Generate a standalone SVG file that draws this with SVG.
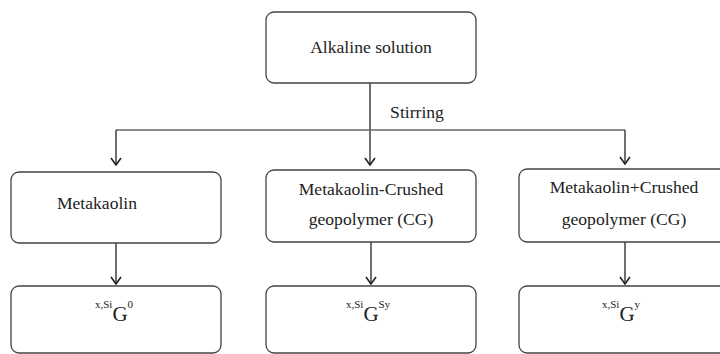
<svg xmlns="http://www.w3.org/2000/svg" width="720" height="354" viewBox="0 0 720 354">
<defs>
<style>
.box{fill:#fff;stroke:#444;stroke-width:1.3}
.t{font-family:'Liberation Serif','DejaVu Serif',serif;font-size:17.6px;fill:#222;text-anchor:middle}
.g{font-family:'Liberation Serif','DejaVu Serif',serif;font-size:21px;fill:#222}
.s{font-family:'Liberation Serif','DejaVu Serif',serif;font-size:11px;fill:#222}
.c{fill:none;stroke:#333;stroke-width:1.4}
.h{fill:none;stroke:#666;stroke-width:1.3}
</style>
<marker id="ah" viewBox="0 0 12 12" refX="11" refY="6" markerWidth="12" markerHeight="12" markerUnits="userSpaceOnUse" orient="auto">
<path d="M4,1 L11,6 L4,11" fill="none" stroke="#222" stroke-width="1.6"/>
</marker>
</defs>
<rect width="720" height="354" fill="#fff"/>
<g id="connectors">
<line class="c" x1="370" y1="83" x2="370" y2="165" marker-end="url(#ah)"/>
<polyline class="h" points="116,130 625,130"/>
<line class="c" x1="116" y1="130" x2="116" y2="165" marker-end="url(#ah)"/>
<line class="c" x1="625" y1="130" x2="625" y2="164" marker-end="url(#ah)"/>
<line class="c" x1="116" y1="243" x2="116" y2="284" marker-end="url(#ah)"/>
<line class="c" x1="371" y1="242" x2="371" y2="284" marker-end="url(#ah)"/>
<line class="c" x1="625" y1="242" x2="625" y2="284" marker-end="url(#ah)"/>
<text class="t" x="417" y="118">Stirring</text>
</g>
<g id="alkaline">
<rect class="box" x="266" y="12" width="210" height="71" rx="8"/>
<text class="t" x="371" y="53">Alkaline solution</text>
</g>
<g id="metakaolin">
<rect class="box" x="11" y="172" width="210" height="71" rx="8"/>
<text class="t" x="97" y="209">Metakaolin</text>
</g>
<g id="mk-cg">
<rect class="box" x="266" y="170" width="210" height="72" rx="8"/>
<text class="t" x="371" y="195">Metakaolin-Crushed</text>
<text class="t" x="371" y="225">geopolymer (CG)</text>
</g>
<g id="mkplus-cg">
<rect class="box" x="519" y="169" width="210" height="73" rx="8"/>
<text class="t" x="624" y="193">Metakaolin+Crushed</text>
<text class="t" x="624" y="225">geopolymer (CG)</text>
</g>
<g id="g0">
<rect class="box" x="11" y="286" width="210" height="67" rx="8"/>
<text x="95" y="321"><tspan class="s" dy="-13">x,Si</tspan><tspan class="g" dy="13">G</tspan><tspan class="s" dy="-13">0</tspan></text>
</g>
<g id="gsy">
<rect class="box" x="266" y="286" width="210" height="67" rx="8"/>
<text x="346" y="321"><tspan class="s" dy="-13">x,Si</tspan><tspan class="g" dy="13">G</tspan><tspan class="s" dy="-13">Sy</tspan></text>
</g>
<g id="gy">
<rect class="box" x="519" y="286" width="210" height="67" rx="8"/>
<text x="602" y="321"><tspan class="s" dy="-13">x,Si</tspan><tspan class="g" dy="13">G</tspan><tspan class="s" dy="-13">y</tspan></text>
</g>
</svg>
